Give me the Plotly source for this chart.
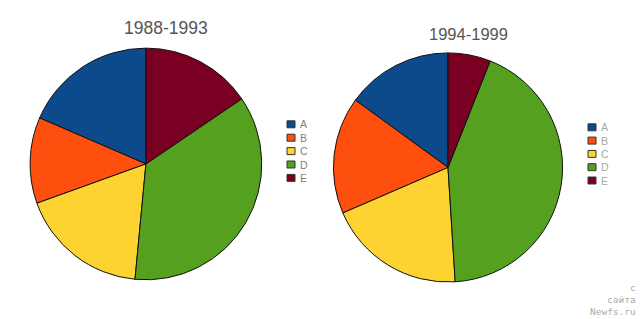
import plotly.graph_objects as go

categories = ["A", "B", "C", "D", "E"]
colors = ["#0c4a8c", "#ff4f0f", "#fdd331", "#55a11f", "#7a0023"]
values_1988_1993 = [18.5, 12, 18, 36, 15.5]
values_1994_1999 = [15, 16.5, 19.5, 43, 6]
titles = ["1988-1993", "1994-1999"]

W, H = 640, 319


def start_rotation(vals):
    # first slice ends at 12 o'clock, following slices go counterclockwise
    return -360.0 * vals[0] / sum(vals)


fig = go.Figure()
for vals, dom in [
    (values_1988_1993, dict(x=[0.047, 0.409], y=[0.116, 0.856])),
    (values_1994_1999, dict(x=[0.521, 0.879], y=[0.108, 0.842])),
]:
    fig.add_trace(go.Pie(
        labels=categories, values=vals, sort=False, direction="counterclockwise",
        rotation=start_rotation(vals),
        marker=dict(colors=colors, line=dict(color="#111111", width=1)),
        textinfo="none", hoverinfo="label+percent",
        domain=dom, showlegend=False,
    ))

# Legends (swatch + label per category)
shapes = []
annotations = []
legend_specs = [
    dict(x0=287, top=124.3, step=13.4, tx=298, color="#7f7f7f"),
    dict(x0=588, top=127.3, step=13.3, tx=599, color="#a8a8a8"),
]
for spec in legend_specs:
    for i, (cat, col) in enumerate(zip(categories, colors)):
        cy = spec["top"] + i * spec["step"]
        shapes.append(dict(type="rect", xref="paper", yref="paper",
                           x0=spec["x0"] / W, x1=(spec["x0"] + 8) / W,
                           y0=1 - (cy + 3.5) / H, y1=1 - (cy - 3.5) / H,
                           fillcolor=col, line=dict(color="#333333", width=1)))
        annotations.append(dict(text=cat, x=spec["tx"] / W, y=1 - cy / H,
                                xref="paper", yref="paper", xanchor="left", yanchor="middle",
                                showarrow=False,
                                font=dict(family="Liberation Sans, Arial, sans-serif",
                                          size=10.5, color=spec["color"])))

annotations += [
    dict(text=titles[0], x=166 / W, y=1 - 28 / H, xref="paper", yref="paper",
         xanchor="center", yanchor="middle", showarrow=False,
         font=dict(family="Liberation Sans, Arial, sans-serif", size=17.5, color="#555555")),
    dict(text=titles[1], x=468 / W, y=1 - 34 / H, xref="paper", yref="paper",
         xanchor="center", yanchor="middle", showarrow=False,
         font=dict(family="Liberation Sans, Arial, sans-serif", size=16.5, color="#555555")),
]
for txt, yy in [("с", 287), ("сайта", 299), ("Newfs.ru", 311)]:
    annotations.append(dict(text=txt, x=638 / W, y=1 - yy / H, xref="paper", yref="paper",
                            xanchor="right", yanchor="middle", showarrow=False,
                            font=dict(family="DejaVu Sans Mono, monospace", size=9.5,
                                      color="#aaaaaa")))

fig.update_layout(
    width=W, height=H,
    margin=dict(l=0, r=0, t=0, b=0),
    paper_bgcolor="white", plot_bgcolor="white",
    showlegend=False,
    shapes=shapes,
    annotations=annotations,
)
fig.write_html("out.html")
